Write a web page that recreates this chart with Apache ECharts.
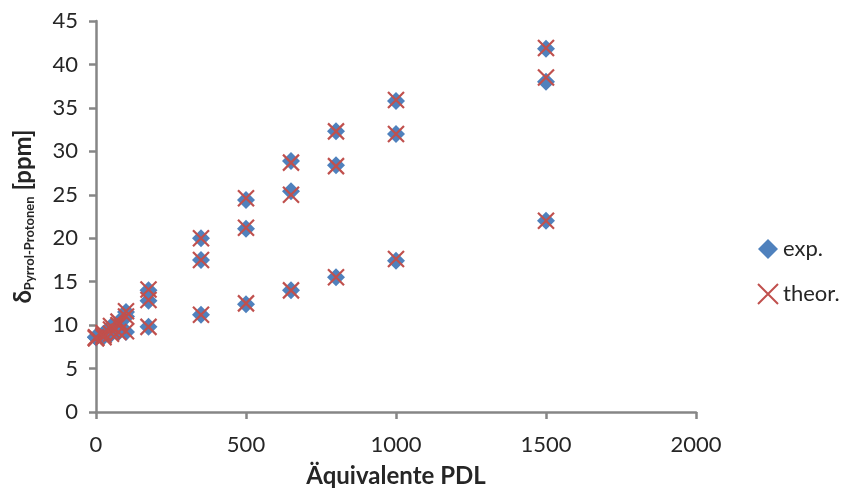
<!DOCTYPE html>
<html>
<head>
<meta charset="utf-8">
<script src="https://cdn.jsdelivr.net/npm/echarts@6/dist/echarts.min.js"></script>
<style>html,body{margin:0;padding:0;background:#fff}#c{width:847px;height:497px}</style>
</head>
<body>
<div id="c"></div>
<script>
const xEquiv = [0, 25, 50, 75, 100, 175, 350, 500, 650, 800, 1000, 1500];
const expA = [8.6, 9.0, 9.8, 10.3, 11.5, 14.0, 20.0, 24.4, 28.9, 32.3, 35.8, 41.8];
const expB = [8.6, 8.9, 9.5, 10.0, 11.0, 12.8, 17.5, 21.1, 25.4, 28.4, 32.0, 38.0];
const expC = [8.6, 8.7, 9.0, 9.2, 9.2, 9.8, 11.2, 12.4, 14.0, 15.5, 17.4, 22.0];
const theoA = [8.6, 9.1, 9.9, 10.4, 11.6, 14.1, 20.0, 24.6, 28.7, 32.3, 35.9, 41.9];
const theoB = [8.5, 8.8, 9.5, 10.0, 11.0, 12.9, 17.5, 21.2, 25.0, 28.3, 32.0, 38.5];
const theoC = [8.5, 8.6, 9.0, 9.2, 9.3, 9.8, 11.2, 12.5, 14.0, 15.5, 17.6, 22.0];
const xTicks = [0, 500, 1000, 1500, 2000];
const yTicks = [0, 5, 10, 15, 20, 25, 30, 35, 40, 45];

function pairs(ys) { return xEquiv.map((x, i) => [x, ys[i]]); }
const expData = [].concat(pairs(expA), pairs(expB), pairs(expC));
const theoData = [].concat(pairs(theoA), pairs(theoB), pairs(theoC));

const FONT = 'Lato, "Open Sans", sans-serif';
const axisGray = '#868686';
const txt = '#262626';
const chart = echarts.init(document.getElementById('c'), null, {renderer: 'canvas'});
chart.setOption({
  animation: false,
  backgroundColor: '#fff',
  grid: {left: 96, right: 151, top: 21, bottom: 85},
  legend: {
    orient: 'vertical', left: 752, top: 233, itemGap: 23,
    itemWidth: 20, itemHeight: 20,
    textStyle: {fontFamily: FONT, fontSize: 22, color: txt},
    data: ['exp.', 'theor.']
  },
  xAxis: {
    type: 'value', min: xTicks[0], max: xTicks[xTicks.length - 1], interval: 500,
    name: 'Äquivalente PDL', nameLocation: 'middle', nameGap: 52,
    nameTextStyle: {fontFamily: FONT, fontSize: 24, fontWeight: 'bold', color: txt},
    axisLine: {lineStyle: {color: axisGray, width: 2.5}},
    axisTick: {show: true, length: 7, lineStyle: {color: axisGray, width: 2.5}},
    axisLabel: {fontFamily: FONT, fontSize: 22, color: txt, margin: 22, formatter: v => String(v)},
    splitLine: {show: false}
  },
  yAxis: {
    type: 'value', min: yTicks[0], max: yTicks[yTicks.length - 1], interval: 5,
    name: '{d|δ}{s|Pyrrol-Protonen}{d| [ppm]}', nameLocation: 'middle', nameGap: 60, nameRotate: 90,
    nameTextStyle: {
      fontFamily: FONT, color: txt,
      rich: {
        d: {fontFamily: FONT, fontSize: 24, fontWeight: 'bold', color: txt},
        s: {fontFamily: FONT, fontSize: 13, fontWeight: 'bold', color: txt, padding: [12, 0, 0, 0]}
      }
    },
    axisLine: {show: true, lineStyle: {color: axisGray, width: 2.5}},
    axisTick: {show: true, length: 7, lineStyle: {color: axisGray, width: 2.5}},
    axisLabel: {fontFamily: FONT, fontSize: 22, color: txt, margin: 18},
    splitLine: {show: false}
  },
  series: [
    {
      name: 'exp.', type: 'scatter', symbol: 'diamond', symbolSize: 18,
      itemStyle: {color: '#4f81bd', opacity: 1},
      data: expData, z: 2
    },
    {
      name: 'theor.', type: 'scatter', symbol: 'path://M0,0L10,10M10,0L0,10', symbolSize: 16,
      itemStyle: {color: 'rgba(0,0,0,0)', borderColor: '#c0504d', borderWidth: 2.2, opacity: 1},
      data: theoData, z: 3
    }
  ]
});
</script>
</body>
</html>
